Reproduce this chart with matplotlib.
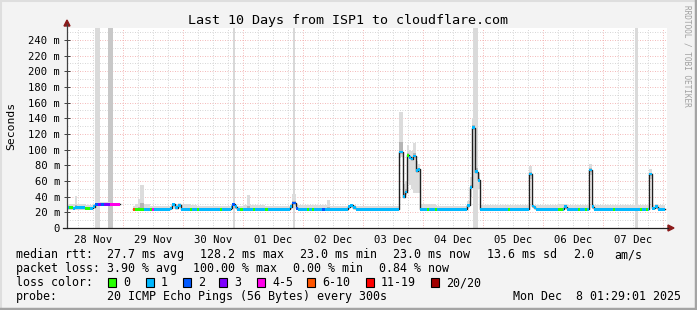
import numpy as np
import matplotlib.pyplot as plt
from matplotlib.patches import Rectangle, Polygon
from matplotlib.lines import Line2D


# - - - - - - - - - - - - - - - - - - - - - - - - - - - - - - - - -
# DATA  (time in hours since 28 Nov 00:00, rtt in ms)
# - - - - - - - - - - - - - - - - - - - - - - - - - - - - - - - - -

nan = np.nan

t_h = [1.6, 2.4, 4.0, 4.8, 5.6, 8.8, 10.8, 12.0, 12.8, 14.0, 15.2, 16.4, 18.8,
       22.8,
       28.0, 28.8, 30.0, 30.8, 32.4, 34.8, 35.6, 36.4, 42.8, 43.6, 44.8, 46.0,
       47.2, 50.8, 51.6, 53.6, 54.4, 62.8, 63.6, 67.2, 67.6, 68.8, 69.6, 70.8,
       72.0, 73.6, 74.8, 76.0, 76.8, 80.8, 82.0, 90.8, 91.6, 93.2, 94.0, 97.6,
       98.4, 99.6, 100.4, 103.6, 104.8, 105.6, 106.8, 114.0, 114.8, 116.0,
       117.2, 134.4, 136.0, 136.8, 137.6, 138.4, 139.2, 140.0, 141.2, 142.0,
       142.8, 145.6, 146.4, 148.8, 149.6, 161.6, 162.8, 163.6, 164.8, 166.0,
       166.8, 178.0, 178.8, 186.4, 187.6, 188.4, 189.2, 198.0, 200.0, 200.4,
       201.6, 206.0, 206.8, 208.8, 209.6, 210.4, 211.6, 212.4, 220.0, 220.8,
       230.8, 231.6, 233.2, 234.0, 234.4, 235.6, 236.8, 238.0]
t_last = 240.8

median_ms = [26, 26, 25, 26, 26, 25, 25, 27, 30, 30, 30, 30, 30,
             nan,
             24, 24, 24, 24, 24, 24, 24, 24, 25, 30, 26, 29,
             24, 24, 24, 24, 24, 24, 24, 26, 30, 27, 24, 24,
             24, 24, 24, 24, 24, 24, 24, 27, 32, 25, 24, 24,
             24, 24, 24, 24, 24, 24, 24, 27, 29, 26,
             24, 97, 40, 46, 93, 90, 88, 92, 73, 75,
             24, 24, 24, 24, 24, 29, 52, 128, 72, 61,
             24, 24, 24, 69, 28, 26, 24, 24, 24, 27,
             24, 24, 24, 24, 24, 74, 27, 24, 24, 24,
             24, 24, 24, 24, 69, 25, 27, 24]

loss_idx = [1, 0, 1, 1, 1, 0, 1, 1, 2, 3, 2, 3, 4,
            0,
            5, 0, 0, 0, 1, 0, 4, 1, 1, 1, 1, 1,
            1, 0, 1, 0, 1, 0, 1, 1, 2, 1, 1, 0,
            1, 1, 1, 0, 1, 0, 1, 1, 2, 2, 1, 0,
            1, 0, 1, 2, 1, 1, 1, 1, 1, 1,
            1, 1, 1, 1, 0, 1, 1, 1, 1, 1,
            1, 0, 1, 0, 1, 1, 1, 1, 1, 1,
            1, 0, 1, 1, 1, 1, 1, 0, 1, 1,
            1, 0, 1, 0, 1, 1, 1, 1, 0, 1,
            0, 1, 0, 1, 1, 1, 1, 1]

smoke_lo = [24, 24, 24, 24, 24, 24, 24, 25, 28, 28, 28, 28, 28,
            nan,
            22, 23, 23, 23, 23, 23, 23, 23, 23, 27, 24, 26,
            23, 23, 23, 23, 23, 23, 23, 23, 27, 24, 23, 23,
            23, 23, 23, 23, 23, 23, 23, 24, 28, 23, 23, 23,
            23, 23, 23, 23, 23, 23, 23, 24, 26, 24,
            23, 90, 38, 42, 60, 55, 50, 45, 45, 45,
            23, 23, 23, 23, 23, 26, 40, 105, 55, 50,
            23, 23, 23, 62, 25, 24, 23, 23, 23, 24,
            23, 23, 23, 23, 23, 68, 24, 23, 23, 23,
            23, 23, 23, 23, 62, 23, 24, 23]

smoke_hi = [29, 30, 31, 41, 30, 29, 29, 30, 33, 33, 33, 33, 32,
            nan,
            28, 30, 37, 55, 30, 28, 28, 28, 28, 32, 30, 32,
            30, 29, 29, 28, 28, 28, 28, 29, 31, 29, 28, 28,
            29, 42, 29, 29, 29, 28, 28, 30, 44, 30, 29, 29,
            29, 29, 29, 29, 29, 36, 28, 29, 31, 29,
            28, 148, 56, 60, 106, 100, 98, 108, 85, 82,
            30, 30, 30, 29, 28, 35, 65, 140, 90, 70,
            29, 29, 29, 79, 31, 29, 29, 30, 30, 30,
            29, 29, 29, 29, 29, 82, 30, 29, 29, 29,
            29, 29, 29, 29, 75, 29, 30, 29]

# tall smoke columns (max rtt far above the scale)
tall_t0 = [12.8, 18.0, 68.0, 92.0, 164.0, 228.8]
tall_t1 = [14.8, 20.0, 68.8, 92.8, 166.0, 230.0]
tall_max = [300, 300, 300, 300, 300, 300]
tall_shade = ['#dadada', '#c8c8c8', '#d8d8d8', '#d8d8d8', '#dadada', '#dadada']

day_labels = ['28 Nov', '29 Nov', '30 Nov', '01 Dec', '02 Dec',
              '03 Dec', '04 Dec', '05 Dec', '06 Dec', '07 Dec']

loss_colors = ['#26ff00', '#00b8ff', '#0059ff', '#7e00ff',
               '#ff00ea', '#ff5500', '#ff0000', '#a10000']
loss_labels = ['0', '1', '2', '3', '4-5', '6-10', '11-19', '20/20']

stats_rtt = ['median rtt:', '27.7 ms avg', '128.2 ms max', '23.0 ms min',
             '23.0 ms now', '13.6 ms sd', '2.0', 'am/s']
stats_loss = ['packet loss:', '3.90 % avg', '100.00 % max', '0.00 % min',
              '0.84 % now']
probe_text = ['probe:', '20 ICMP Echo Pings (56 Bytes) every 300s',
              'Mon Dec  8 01:29:01 2025']


# - - - - - - - - - - - - - - - - - - - - - - - - - - - - - - - - -
# PLOT
# - - - - - - - - - - - - - - - - - - - - - - - - - - - - - - - - -

W, H = 697, 310
MONO = 'DejaVu Sans Mono'


def fx(x):
    return x / W


def fy(y):
    return 1 - y / H


fig = plt.figure(figsize=(W / 100, H / 100), dpi=100, facecolor='#f3f3f3')
ax = fig.add_axes([fx(67), fy(228), 600 / W, 200 / H])
ax.set_facecolor('white')
for s in ax.spines.values():
    s.set_visible(False)

ax.set_xlim(1.6, 241.6)
ax.set_ylim(0, 255.3)

# grid
for v in range(10, 256, 10):
    major = v % 20 == 0
    ax.axhline(v, color='#f0a0a0' if major else '#c8c8c8', lw=0.6,
               ls=(0, (1, 2)), zorder=0.5)
for h in range(6, 242, 6):
    major = h % 24 == 0
    ax.axvline(h, color='#f0a0a0' if major else '#c8c8c8', lw=0.6,
               ls=(0, (1, 2)), zorder=0.5)

# series edges for step drawing
tx = np.array(t_h + [t_last])
med = np.array(median_ms + [median_ms[-1]], dtype=float)
lo = np.array(smoke_lo + [smoke_lo[-1]], dtype=float)
hi = np.array(smoke_hi + [smoke_hi[-1]], dtype=float)

# smoke
ax.bar(tall_t0, tall_max, width=np.array(tall_t1) - np.array(tall_t0),
       align='edge', color=tall_shade, lw=0, zorder=1)
ax.fill_between(tx, lo, hi, step='post', color='#dcdcdc', lw=0, zorder=1)
ax.fill_between(tx, med, np.minimum(med + (hi - med) * 0.25, hi), step='post',
                color='#b4b4b4', lw=0, zorder=1.2)

# median line
ax.step(tx, med, where='post', color='#202020', lw=1.0, zorder=2)

# loss coloured band around the median
SW = 1.8
widths = np.diff(tx)
for i in range(len(t_h)):
    if np.isnan(median_ms[i]):
        continue
    ax.bar(t_h[i], 2 * SW, bottom=median_ms[i] - SW, width=widths[i],
           align='edge', color=loss_colors[loss_idx[i]], lw=0, zorder=3)

# ticks
ax.set_yticks(range(0, 241, 20))
ax.set_yticklabels(['0'] + ['%d m' % v for v in range(20, 241, 20)],
                   family=MONO, fontsize=7.6)
ax.set_xticks([12 + 24 * i for i in range(len(day_labels))])
ax.set_xticklabels(day_labels, family=MONO, fontsize=7.6)
ax.tick_params(axis='x', length=0, pad=5)
ax.tick_params(axis='y', length=4, width=0.7, direction='inout',
               color='#404040', pad=3)

# axes with arrows
fig.add_artist(Line2D([fx(67), fx(67)], [fy(228), fy(24)], color='#404040', lw=0.9))
fig.add_artist(Line2D([fx(63), fx(668)], [fy(228), fy(228)], color='#202020', lw=0.9))
fig.add_artist(Polygon([[fx(64), fy(26)], [fx(70), fy(26)], [fx(67), fy(20)]],
                       closed=True, color='#8b1a1a'))
fig.add_artist(Polygon([[fx(668), fy(225)], [fx(668), fy(231)], [fx(674), fy(228)]],
                       closed=True, color='#8b1a1a'))

# texts
fig.text(fx(348), fy(24), 'Last 10 Days from ISP1 to cloudflare.com',
         family=MONO, fontsize=9.6, ha='center', va='baseline')
fig.text(fx(11), fy(126), 'Seconds', family=MONO, fontsize=8.2,
         rotation=90, ha='center', va='center')
fig.text(fx(687), fy(5), 'RRDTOOL / TOBI OETIKER', family=MONO, fontsize=5.6,
         rotation=270, ha='center', va='top', color='#a0a0a0')

rtt_x = [16, 107, 200, 300, 393, 487, 573, 614]
for s, x in zip(stats_rtt, rtt_x):
    fig.text(fx(x), fy(258), s, family=MONO, fontsize=8.4, va='baseline')

loss_x = [16, 107, 193, 293, 379]
for s, x in zip(stats_loss, loss_x):
    fig.text(fx(x), fy(272), s, family=MONO, fontsize=8.4, va='baseline')

fig.text(fx(16), fy(286), 'loss color:', family=MONO, fontsize=8.4, va='baseline')
box_x = [108, 146, 183, 219, 257, 307, 366, 431]
for c, lab, x in zip(loss_colors, loss_labels, box_x):
    fig.add_artist(Rectangle((fx(x), fy(287)), 8 / W, 9 / H, facecolor=c,
                             edgecolor='black', lw=0.8))
    fig.text(fx(x + 15), fy(286), lab, family=MONO, fontsize=8.4, va='baseline')

fig.text(fx(16), fy(300), probe_text[0], family=MONO, fontsize=8.4, va='baseline')
fig.text(fx(107), fy(300), probe_text[1], family=MONO, fontsize=8.4, va='baseline')
fig.text(fx(681), fy(300), probe_text[2], family=MONO, fontsize=8.4,
         va='baseline', ha='right')

# frame around the image
fig.add_artist(Line2D([0, 1], [fy(0.5), fy(0.5)], color='#dedede', lw=1.5))
fig.add_artist(Line2D([fx(0.5), fx(0.5)], [0, 1], color='#dedede', lw=1.5))
fig.add_artist(Line2D([0, 1], [fy(308.5), fy(308.5)], color='#a4a4a4', lw=2.5))
fig.add_artist(Line2D([fx(695.5), fx(695.5)], [0, 1], color='#a4a4a4', lw=2.5))

fig.savefig('out.png', dpi=100, facecolor=fig.get_facecolor())
